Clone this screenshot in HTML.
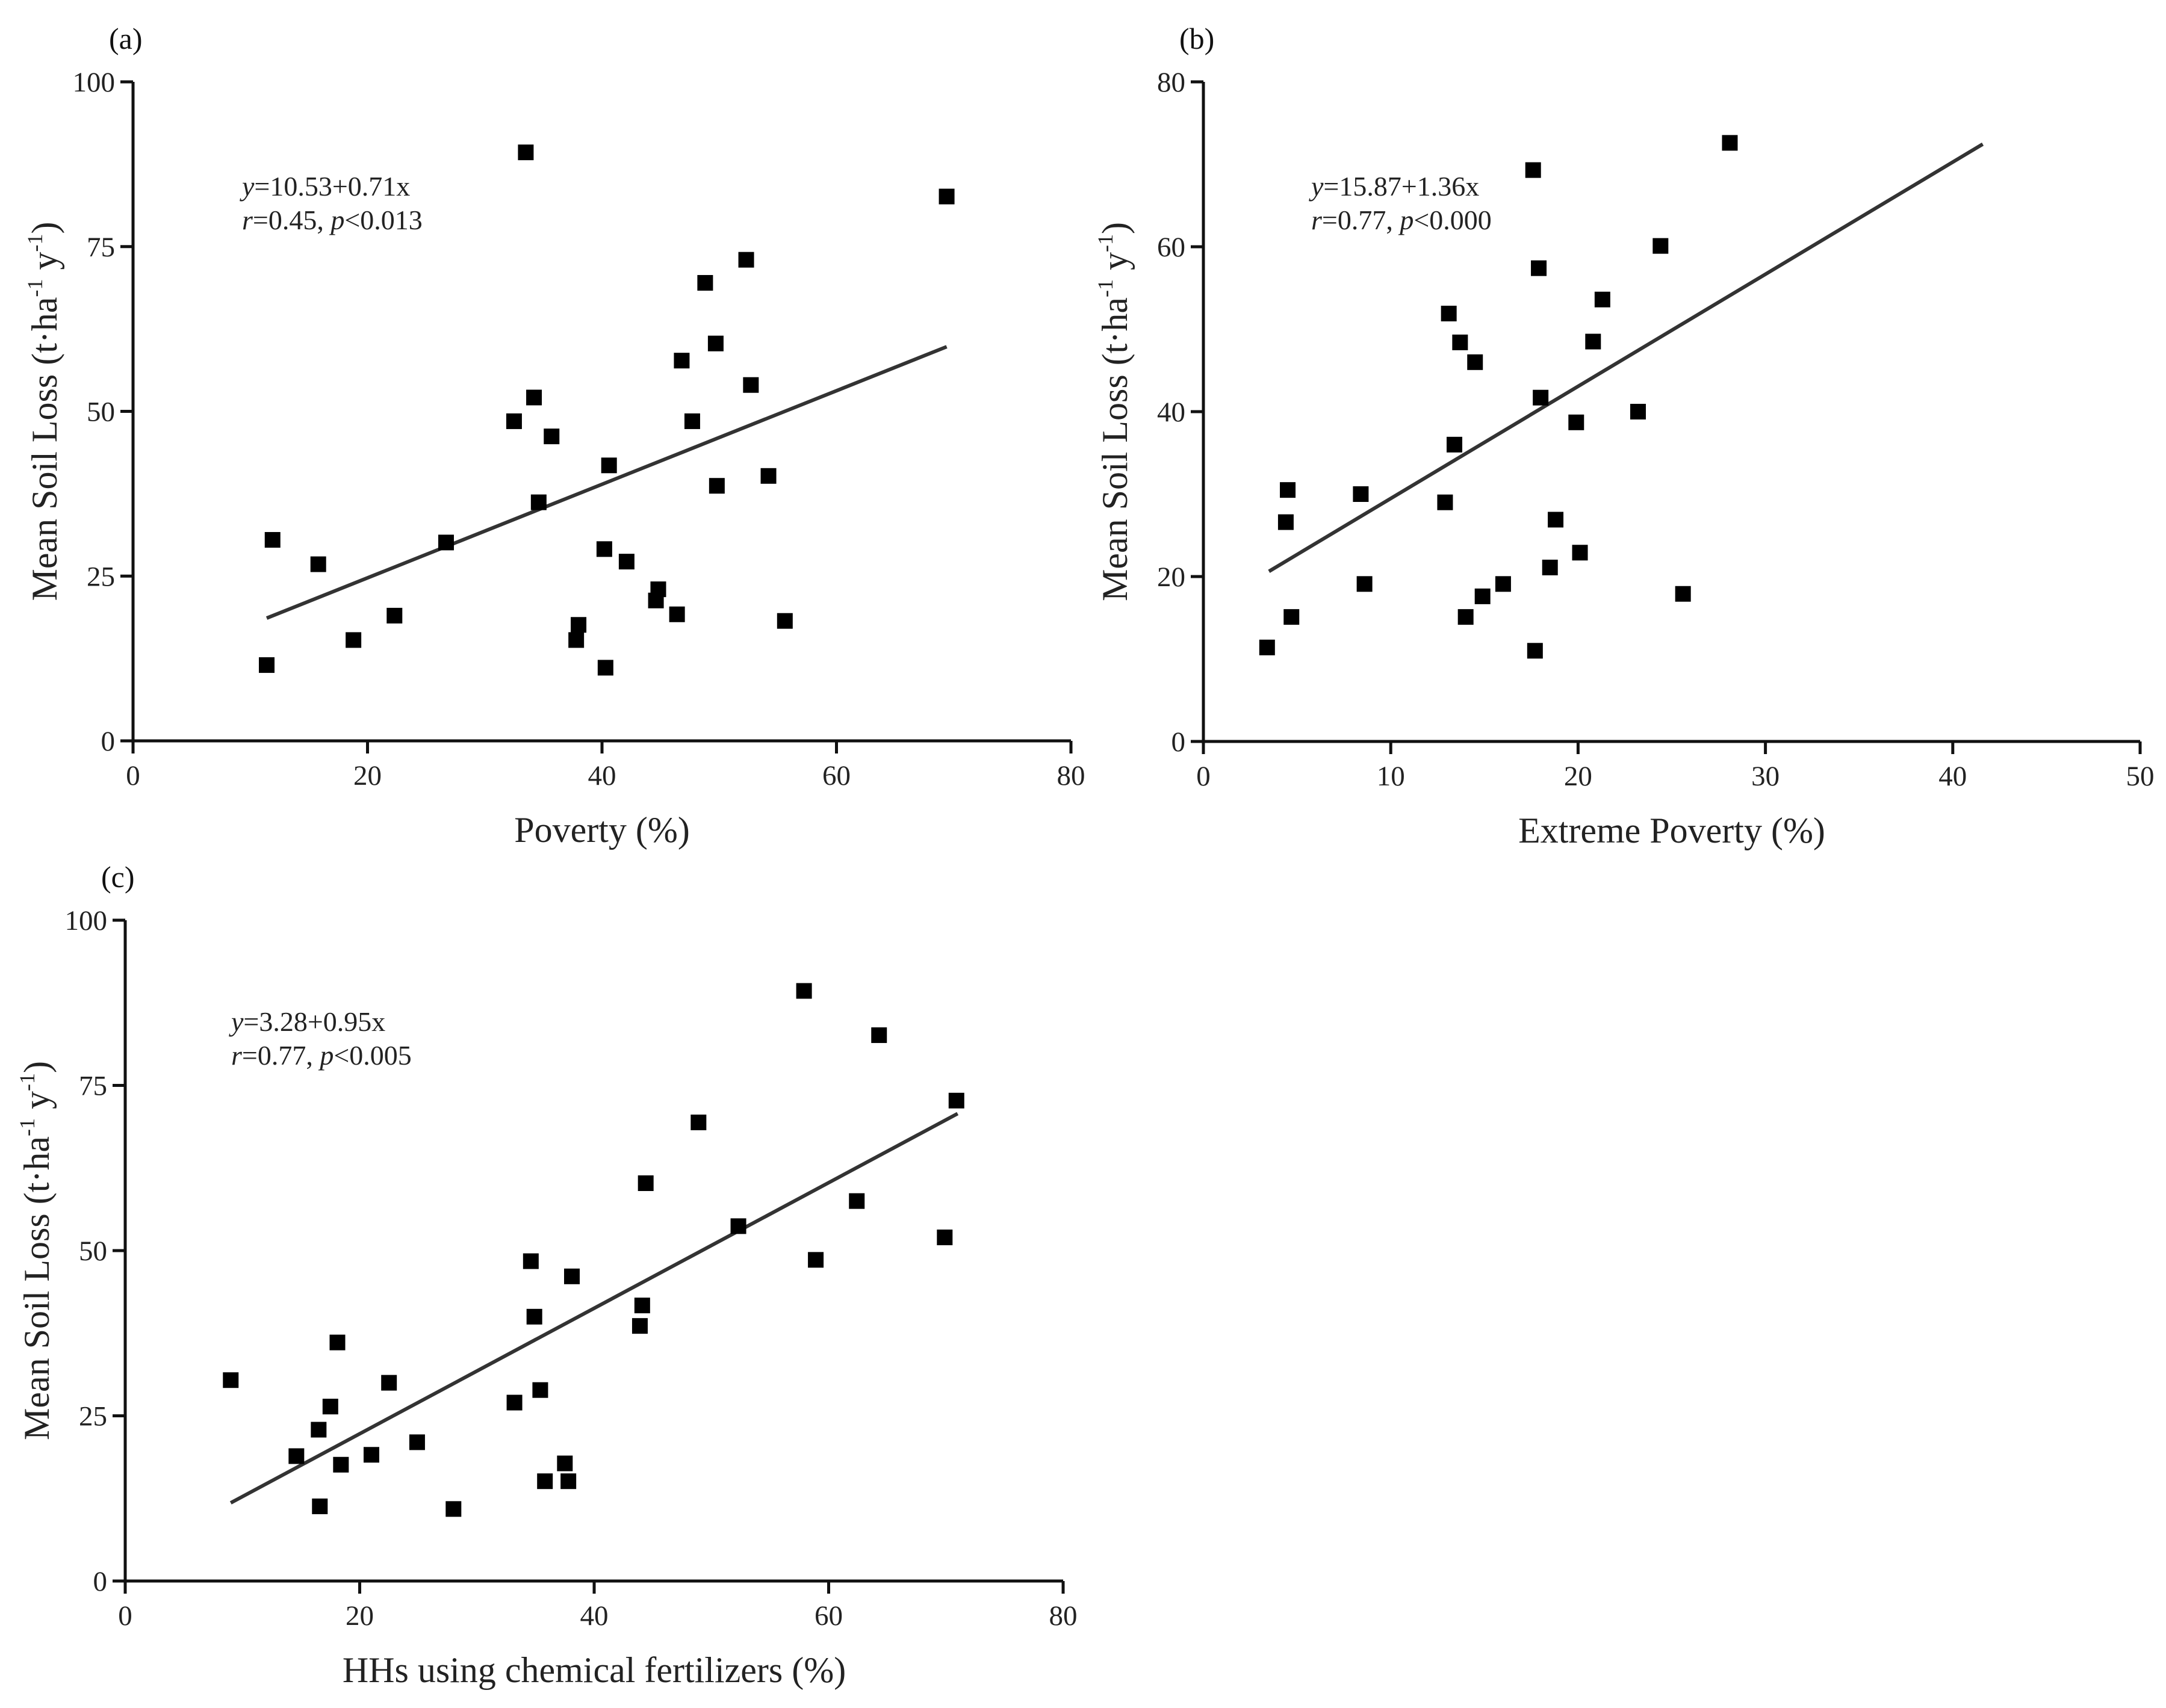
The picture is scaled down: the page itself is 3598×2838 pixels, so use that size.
<!DOCTYPE html>
<html><head><meta charset="utf-8">
<style>
html,body{margin:0;padding:0;background:#fff;}
svg{display:block;font-family:"Liberation Serif",serif;}
</style></head>
<body>
<svg id="fig" width="3598" height="2838" viewBox="0 0 3598 2838" xmlns="http://www.w3.org/2000/svg"></svg>
<script>
// Panel (a) data
const aX = [11.4,11.9,15.8,18.8,22.3,26.7,32.5,33.5,34.2,34.6,35.7,37.8,38.0,40.2,40.3,40.6,42.1,44.6,44.8,46.4,46.8,47.7,48.8,49.7,49.8,52.3,52.7,54.2,55.6,69.4];
const aY = [11.5,30.5,26.8,15.3,19.0,30.1,48.5,89.3,52.1,36.2,46.2,15.3,17.6,29.1,11.1,41.8,27.2,21.3,23.0,19.2,57.7,48.5,69.5,60.3,38.7,73.0,54.0,40.2,18.2,82.6];
const aFit = [10.53,0.71]; const aFitRange=[11.4,69.4];
const aXTicks=[0,20,40,60,80]; const aYTicks=[0,25,50,75,100];
// Panel (b) data
const bX = [3.4,4.4,4.5,4.7,8.4,8.6,12.9,13.1,13.4,13.7,14.0,14.5,14.9,16.0,17.6,17.7,17.9,18.0,18.5,18.8,19.9,20.1,20.8,21.3,23.2,24.4,25.6,28.1];
const bY = [11.4,26.6,30.5,15.1,30.0,19.1,29.0,51.9,36.0,48.4,15.1,46.0,17.6,19.1,69.3,11.0,57.4,41.7,21.1,26.9,38.7,22.9,48.5,53.6,40.0,60.1,17.9,72.6];
const bFit = [15.87,1.36]; const bFitRange=[3.5,41.6];
const bXTicks=[0,10,20,30,40,50]; const bYTicks=[0,20,40,60,80];
// Panel (c) data
const cX = [9.0,14.6,16.5,16.6,17.5,18.1,18.4,21.0,22.5,24.9,28.0,33.2,34.6,34.9,35.4,35.8,37.5,37.8,38.1,43.9,44.1,44.4,48.9,52.3,57.9,58.9,62.4,64.3,69.9,70.9];
const cY = [30.4,18.9,22.9,11.3,26.4,36.1,17.6,19.1,30.0,21.0,10.9,27.0,48.4,40.0,28.9,15.1,17.8,15.1,46.1,38.6,41.7,60.2,69.4,53.7,89.3,48.6,57.5,82.6,52.0,72.7];
const cFit = [3.28,0.95]; const cFitRange=[9.0,71.0];
const cXTicks=[0,20,40,60,80]; const cYTicks=[0,25,50,75,100];

const NS="http://www.w3.org/2000/svg";
const svg=document.getElementById('fig');
function mk(tag,attrs,parent){const e=document.createElementNS(NS,tag);for(const k in attrs)e.setAttribute(k,attrs[k]);(parent||svg).appendChild(e);return e;}

function panel(id,box,xs,ys,xt,yt,fit,fr,letter,xtitle,eq1,eq2,eqPos){
  const g=mk('g',{});
  
  
  const [L,T,R,B]=box;
  const xmin=xt[0],xmax=xt[xt.length-1],ymin=yt[0],ymax=yt[yt.length-1];
  const sx=v=>L+(v-xmin)/(xmax-xmin)*(R-L);
  const sy=v=>B-(v-ymin)/(ymax-ymin)*(B-T);
  const ax=mk('path',{d:`M${L},${T} V${B} H${R}`,fill:'none',stroke:'#111','stroke-width':5},g);
  
  
  yt.forEach(v=>{
    const t=mk('line',{x1:L-21,x2:L,y1:sy(v),y2:sy(v),stroke:'#111','stroke-width':5},g);
    
    
    const lb=mk('text',{x:L-30,y:sy(v)+16,'font-size':47,'text-anchor':'end',fill:'#222'},g);
    lb.textContent=v;
    
    
  });
  xt.forEach(v=>{
    const t=mk('line',{x1:sx(v),x2:sx(v),y1:B,y2:B+21,stroke:'#111','stroke-width':5},g);
    
    
    const lb=mk('text',{x:sx(v),y:B+73,'font-size':47,'text-anchor':'middle',fill:'#222'},g);
    lb.textContent=v;
    
    
  });
  const ln=mk('line',{x1:sx(fr[0]),y1:sy(fit[0]+fit[1]*fr[0]),x2:sx(fr[1]),y2:sy(fit[0]+fit[1]*fr[1]),stroke:'#333','stroke-width':6},g);
  
  
  xs.forEach((x,i)=>{
    const r=mk('rect',{x:sx(x)-13,y:sy(ys[i])-13,width:26,height:26,fill:'#000'},g);
    
    
  });
  const lt=mk('text',{x:L-40,y:T-55,'font-size':50,fill:'#111'},g);
  lt.textContent=letter;
  
  
  const xtl=mk('text',{x:(L+R)/2,y:B+168,'font-size':60,'text-anchor':'middle',fill:'#222'},g);
  xtl.textContent=xtitle;
  
  
  const cy=(T+B)/2, cx=L-127;
  const ytl=mk('text',{x:cx,y:cy,'font-size':60,'text-anchor':'middle',fill:'#222',transform:`rotate(-90 ${cx} ${cy})`},g);
  ytl.innerHTML='Mean Soil Loss (t·ha<tspan font-size="36" dy="-24">-1</tspan><tspan dy="24"> y</tspan><tspan font-size="36" dy="-24">-1</tspan><tspan dy="24">)</tspan>';
  
  
  const e1=mk('text',{x:eqPos[0],y:eqPos[1],'font-size':46,fill:'#222'},g);
  e1.innerHTML='<tspan font-style="italic">y</tspan>'+eq1;
  
  
  const e2=mk('text',{x:eqPos[0],y:eqPos[1]+56,'font-size':46,fill:'#222'},g);
  e2.innerHTML='<tspan font-style="italic">r</tspan>'+eq2[0]+'<tspan font-style="italic">p</tspan>'+eq2[1];
  
  
}
panel('a',[221,136,1779,1231],aX,aY,aXTicks,aYTicks,aFit,aFitRange,'(a)','Poverty (%)','=10.53+0.71x',['=0.45, ','&lt;0.013'],[402,325]);
panel('b',[1999,136,3555,1232],bX,bY,bXTicks,bYTicks,bFit,bFitRange,'(b)','Extreme Poverty (%)','=15.87+1.36x',['=0.77, ','&lt;0.000'],[2178,325]);
panel('c',[208,1529,1766,2627],cX,cY,cXTicks,cYTicks,cFit,cFitRange,'(c)','HHs using chemical fertilizers (%)','=3.28+0.95x',['=0.77, ','&lt;0.005'],[384,1713]);
</script>
</body></html>
